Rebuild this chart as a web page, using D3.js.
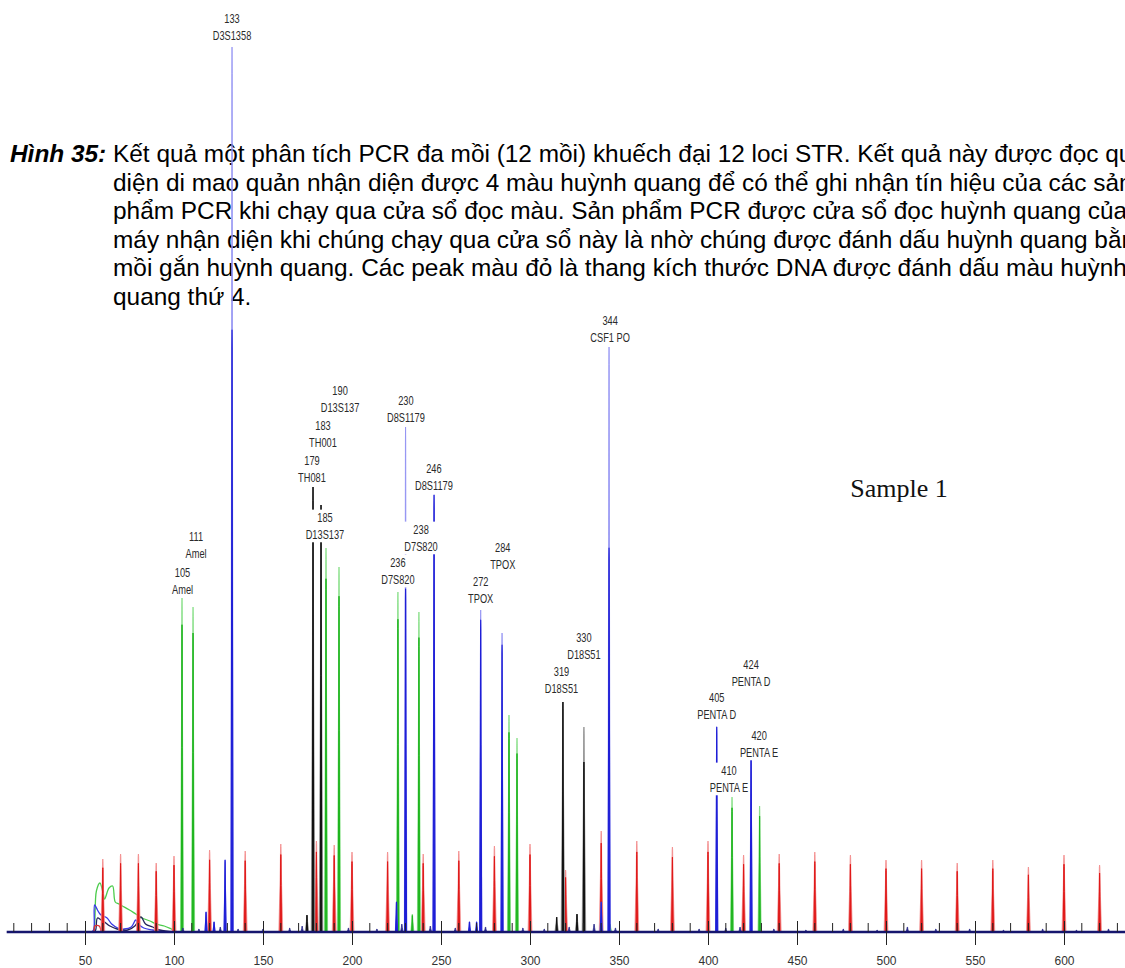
<!DOCTYPE html>
<html><head><meta charset="utf-8">
<script src="https://cdn.jsdelivr.net/npm/d3@7"></script>
<style>
html,body{margin:0;padding:0;background:#fff;overflow:hidden}
svg{display:block}
</style></head>
<body>
<svg id="c" width="1125" height="968"></svg>
<script>
// ---------------- data ----------------
const majorTicks = [50,100,150,200,250,300,350,400,450,500,550,600];
const minorTicks = [10,20,30,40,60,70,80,90,110,120,130,140,160,170,180,190,210,220,230,240,260,270,280,290,310,320,330,340,360,370,380,390,410,420,430,440,460,470,480,490,510,520,530,540,560,570,580,590,610,620,630];
// [size bp, height, dark-part height]
const bluePeaks = [[118,20,20],[122.5,10,10],[128.7,72,72],[132.6,885,602],[225,30,30],[230.1,505,343],[246.1,437,437],[266,10,10],[270,10,10],[272.3,322,312],[284.3,299,287],[340,30,30],[344.4,585,384],[404.9,205,205],[424.2,192,192]];
const greenPeaks = [[104.5,334],[110.7,325],[185.4,384],[192.7,365],[225.8,340],[233.9,18],[237.6,320],[288.2,217],[292.7,194],[345,8],[413.5,135],[429,126]];
const blackPeaks = [[174.7,17,17],[178.1,445,445],[182.6,427,427],[315,15,15],[318.5,230,230],[326.4,18,18],[330.3,205,170]];
const ladderPeaks = [[60,73],[70,78],[80,78],[90,69],[100,76],[120,82],[140,81],[160,88],[180,91],[190,87],[200,80],[220,80],[240,78],[260,81],[280,86],[300,88],[320,62],[340,101],[360,91],[380,85],[400,91],[420,77],[440,78],[460,80],[480,77],[500,72],[520,72],[540,69],[560,72],[580,65],[600,77],[620,67]];
const greenNoise = [[54,0],[55,2],[56.4,41],[58.4,49],[60,40],[61,33],[63.5,44],[65.5,46],[67,30],[69,28],[71,26],[75,22],[78.5,18],[82,14],[86.5,11],[90,8],[94.5,6],[98.5,3],[102,0]];
const blueNoise = [[54,0],[55,3],[55.4,27],[57,22],[58.4,18],[60,16],[62.4,14],[65,8],[68.4,4],[72,3],[76,5],[78.5,12],[80,8],[83,4],[88,2],[95,0]];
const navyNoise = [[55,0],[56,2],[57,14],[59,12],[61,10],[64,6],[68,3],[74,2],[78,6],[81.5,15],[84,8],[88,5],[92,2],[100,0]];
const redNoise = [[54,0],[55,1],[55.5,6],[58,6],[59,0]];
const smallSpikes = [[105,4],[114,3],[126,5],[136,3],[150,3],[165,4],[172,6],[198,4],[214,3],[228,8],[244,6],[258,4],[275,5],[296,4],[308,3],[322,5],[336,8],[348,4],[372,3],[395,3],[410,4],[418,5],[437,3],[455,2],[476,3],[495,2],[512,5],[528,3],[547,3],[566,2],[588,3],[607,2],[625,3]];
// annotations: [size bp, bottom of label (intensity units), line1, line2]
const peakLabels = [
 [132.6,892,"133","D3S1358"],
 [193.3,520,"190","D13S137"],
 [183.7,485,"183","TH001"],
 [177.5,450,"179","TH081"],
 [184.8,393,"185","D13S137"],
 [230.3,510,"230","D8S1179"],
 [246.0,442,"246","D8S1179"],
 [238.8,381,"238","D7S820"],
 [225.8,348,"236","D7S820"],
 [112.4,374,"111","Amel"],
 [104.8,338,"105","Amel"],
 [345.0,590,"344","CSF1 PO"],
 [284.7,363,"284","TPOX"],
 [272.3,329,"272","TPOX"],
 [330.3,273,"330","D18S51"],
 [317.7,239,"319","D18S51"],
 [424.2,246,"424","PENTA D"],
 [404.9,213,"405","PENTA D"],
 [428.7,175,"420","PENTA E"],
 [411.8,140,"410","PENTA E"]
];
const sampleTitle = "Sample 1";
const captionLabel = "Hình 35:";
const captionLines = [
 ["Kết quả một phân tích PCR đa mồi (12 mồi) khuếch đại 12 loci STR. Kết quả này được đọc qua", "Kết quả một phân tích PCR đa mồi (12 mồi) khuếch đại 12 loci STR. Kết quả này được đọc qu"],
 ["diện di mao quản nhận diện được 4 màu huỳnh quang để có thể ghi nhận tín hiệu của các sản"],
 ["phẩm PCR khi chạy qua cửa sổ đọc màu. Sản phẩm PCR được cửa sổ đọc huỳnh quang của"],
 ["máy nhận diện khi chúng chạy qua cửa sổ này là nhờ chúng được đánh dấu huỳnh quang bằng"],
 ["mồi gắn huỳnh quang. Các peak màu đỏ là thang kích thước DNA được đánh dấu màu huỳnh"],
 ["quang thứ 4."]
];

// ---------------- scales ----------------
const x = d3.scaleLinear().domain([50,600]).range([85,1064]);
const y = d3.scaleLinear().domain([0,885]).range([932,47]);
const svg = d3.select("#c");

// ---------------- caption ----------------
const cap = svg.append("g").attr("font-family","Arial, 'Liberation Sans', sans-serif").attr("fill","#000");
const capX = 113, capY0 = 162, capDy = 28.5;
// fit font size so that the visible part of line 1 reaches the right edge
const probe = cap.append("text").attr("font-size",20).text(captionLines[0][1]);
const w20 = probe.node().getComputedTextLength();
probe.remove();
const fs = 20*(1133-capX)/w20;
cap.append("text").attr("x",10).attr("y",capY0).attr("font-size",fs)
   .attr("font-weight","bold").attr("font-style","italic").text(captionLabel);
captionLines.forEach((l,i)=>{
  cap.append("text").attr("x",capX).attr("y",capY0+i*capDy).attr("font-size",fs).text(l[0]);
});

// ---------------- peaks ----------------
const line = d3.line().x(d=>x(d[0])).y(d=>y(d[1]));
function peakPts(bp,h,hw){ return [[bp-hw,0],[bp-hw*0.35,h*0.6],[bp-hw*0.12,h*0.97],[bp,h],[bp+hw*0.12,h*0.97],[bp+hw*0.35,h*0.6],[bp+hw,0]]; }
const gPeaks = svg.append("g");
function drawPeak(bp,h,hw,col,sw){
  gPeaks.append("path").attr("d",line(peakPts(bp,h,hw))).attr("fill",col).attr("stroke",col).attr("stroke-width",sw).attr("stroke-linejoin","round");
}
// noise traces
const curve = d3.line().x(d=>x(d[0])).y(d=>y(d[1])).curve(d3.curveCatmullRom);
gPeaks.append("path").attr("d",curve(greenNoise)).attr("fill","none").attr("stroke","#4ccc4c").attr("stroke-width",1.3);
gPeaks.append("path").attr("d",curve(blueNoise)).attr("fill","none").attr("stroke","#3a3ae6").attr("stroke-width",1.3);
gPeaks.append("path").attr("d",curve(navyNoise)).attr("fill","none").attr("stroke","#22225a").attr("stroke-width",1.3);
gPeaks.append("path").attr("d",curve(redNoise)).attr("fill","none").attr("stroke","#e03030").attr("stroke-width",1.3);
// red ladder
ladderPeaks.forEach(d=>{ drawPeak(d[0],d[1],1.1,"#f28a8a",0.8); drawPeak(d[0],d[1]*0.88,0.45,"#e01818",1); });
// green
greenPeaks.forEach(d=>{ drawPeak(d[0],d[1],0.9,"#80dd80",0.8); drawPeak(d[0],d[1]*0.92,0.4,"#1fb51f",1); });
// black
blackPeaks.forEach(d=>{ drawPeak(d[0],d[1],1.0,"#8a8a8a",0.8); drawPeak(d[0],d[2],0.4,"#111",1); });
// blue
bluePeaks.forEach(d=>{ drawPeak(d[0],d[1],0.7,"#8f8ff2",0.8); drawPeak(d[0],d[2],0.55,"#1e1ed6",1.1); });
// tiny spikes
smallSpikes.forEach(d=>drawPeak(d[0],d[1],0.7,"#2a2a8a",0.8));

// ---------------- axis ----------------
const gAxis = svg.append("g");
gAxis.append("line").attr("x1",x(6)).attr("x2",1125).attr("y1",y(0)).attr("y2",y(0)).attr("stroke","#16166e").attr("stroke-width",2.6);
gAxis.selectAll(".mn").data(minorTicks).join("line")
  .attr("x1",d=>x(d)).attr("x2",d=>x(d)).attr("y1",y(0)).attr("y2",y(0)-9).attr("stroke","#222").attr("stroke-width",1);
const ax = d3.axisBottom(x).tickValues(majorTicks).tickSize(13).tickPadding(11).tickFormat(d3.format("d"));
const axG = gAxis.append("g").attr("transform",`translate(0,${y(0)})`).call(ax);
axG.select(".domain").remove();
axG.selectAll(".tick line").attr("y1",-11).attr("stroke","#222");
axG.selectAll(".tick text").attr("font-family","Arial, 'Liberation Sans', sans-serif").attr("font-size",12).attr("fill","#333");

// ---------------- peak labels ----------------
const gLab = svg.append("g").attr("font-family","Arial, 'Liberation Sans', sans-serif").attr("font-size",12.5).attr("fill","#2a2a2a");
peakLabels.forEach(d=>{
  const g = gLab.append("g").attr("transform",`translate(${x(d[0])},${y(d[1])})`);
  const inner = g.append("g").attr("transform","scale(0.74,1)");
  inner.append("text").attr("text-anchor","middle").attr("y",-17).text(d[2]);
  inner.append("text").attr("text-anchor","middle").attr("y",0).text(d[3]);
  const bb = inner.node().getBBox();
  inner.insert("rect",":first-child").attr("x",bb.x-2).attr("y",bb.y-1).attr("width",bb.width+4).attr("height",bb.height+2).attr("fill","#fff");
});

// ---------------- sample title ----------------
svg.append("text").attr("x",x(507.3)).attr("y",y(435)).attr("text-anchor","middle")
  .attr("font-family","'Liberation Serif', 'DejaVu Serif', serif").attr("font-size",26).attr("fill","#111").text(sampleTitle);
</script>
</body></html>
